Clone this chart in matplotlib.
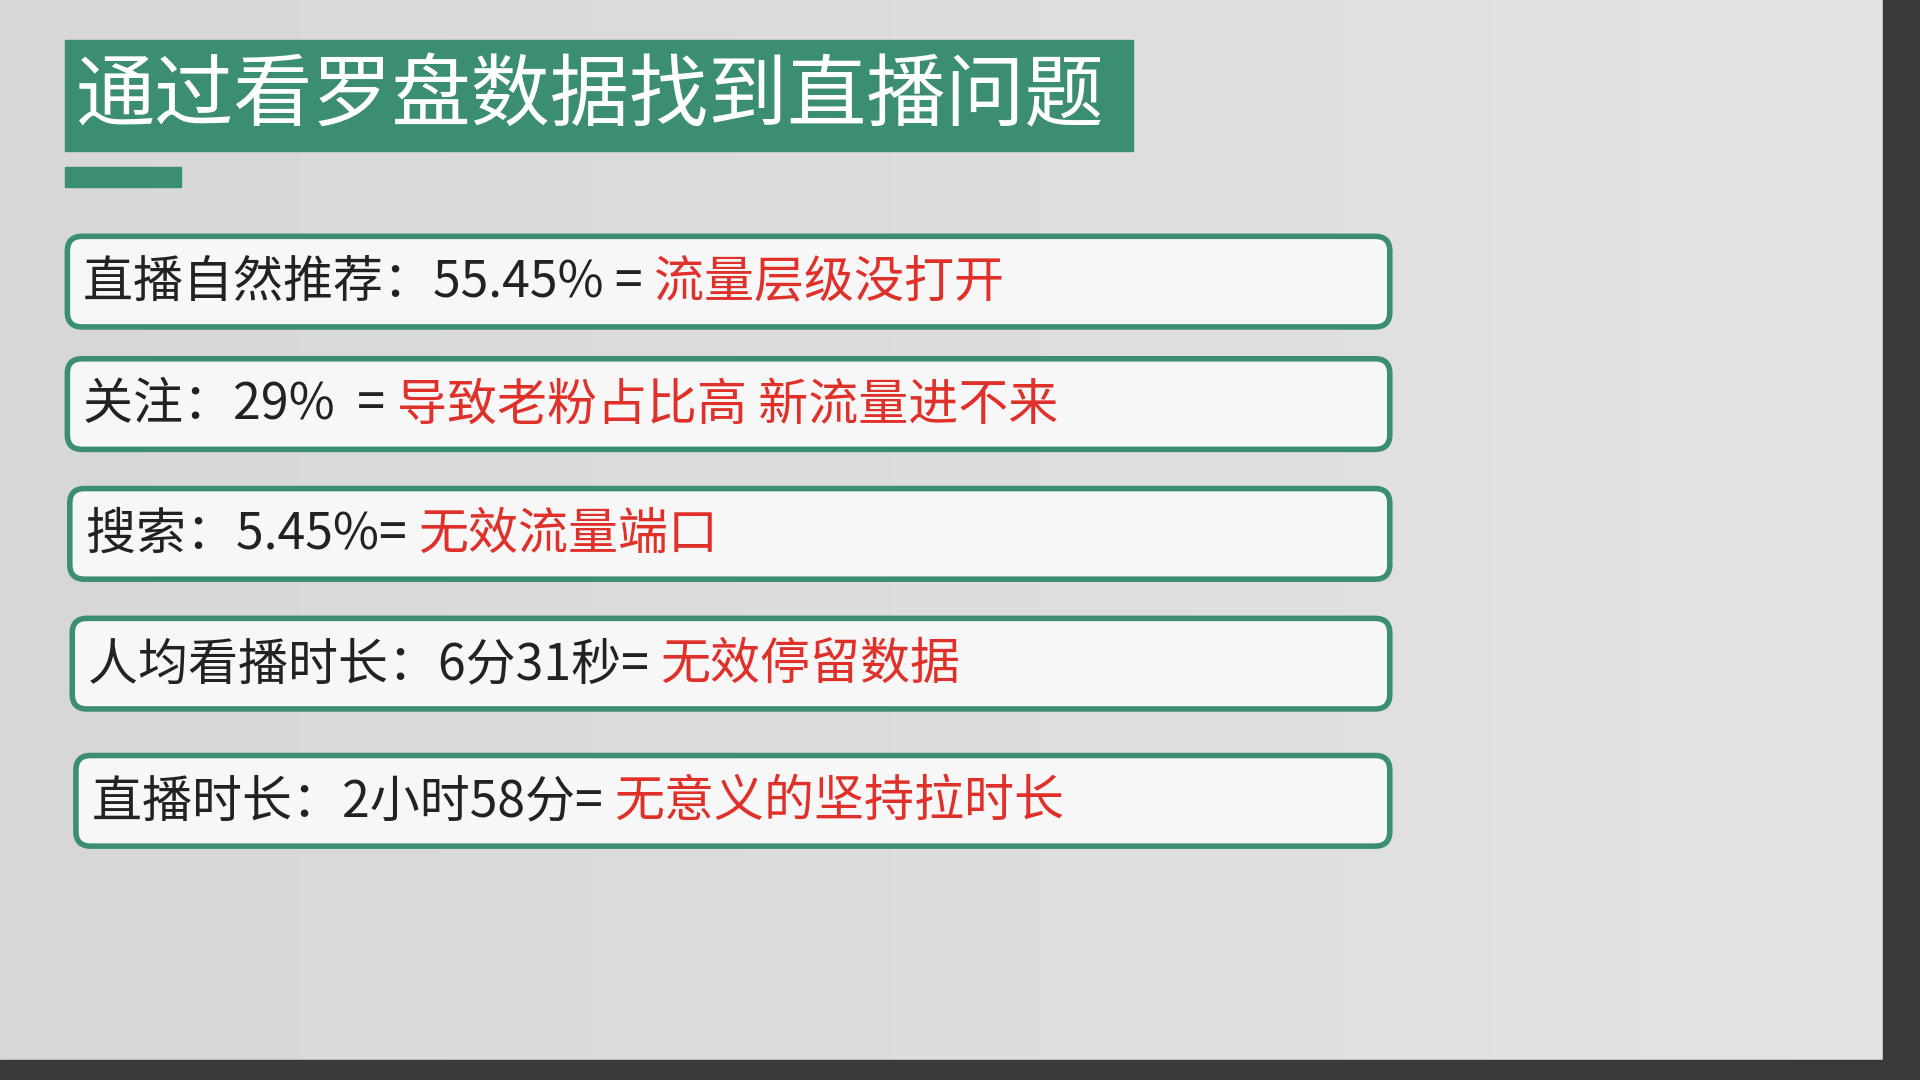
import matplotlib
matplotlib.use("Agg")
import matplotlib.pyplot as plt
from matplotlib.patches import FancyBboxPatch, Rectangle
import numpy as np

plt.rcParams['font.family'] = ['Noto Sans CJK SC', 'DejaVu Sans']

TITLE = "通过看罗盘数据找到直播问题"
metrics = ["直播自然推荐：55.45% = ", "关注：29%  = ", "搜索：5.45%= ", "人均看播时长：6分31秒= ", "直播时长：2小时58分= "]
conclusions = ["流量层级没打开", "导致老粉占比高 新流量进不来", "无效流量端口", "无效停留数据", "无意义的坚持拉时长"]

GREEN = "#3b8f70"
RED = "#e0302a"

W, H = 1568, 882
fig = plt.figure(figsize=(19.2, 10.8), dpi=100)
ax = fig.add_axes([0, 0, 1, 1])
ax.set_xlim(0, W)
ax.set_ylim(H, 0)
ax.axis("off")

# background: light grey with slight gradient, dark frame on the right/bottom
grad = np.linspace(0.84, 0.89, 256)[None, :] * np.ones((64, 1))
ax.imshow(grad, cmap="gray", vmin=0, vmax=1, extent=[0, W, H, 0], aspect="auto", zorder=0)
ax.add_patch(Rectangle((1538, 0), 30, H, color="#3a3a3a", zorder=1))
ax.add_patch(Rectangle((0, 866), W, 16, color="#3a3a3a", zorder=1))

# title block
ax.add_patch(Rectangle((53, 33), 872, 90, color=GREEN, zorder=2))
ax.text(62, 80, TITLE, color="white", fontsize=57, va="center", ha="left", zorder=3)
ax.add_patch(Rectangle((53, 136), 95, 17, color=GREEN, zorder=2))

tops = [193, 293, 399, 505, 617]
lefts = [55, 55, 57, 59, 62]
fig.canvas.draw()
renderer = fig.canvas.get_renderer()
for top, left, m, c in zip(tops, lefts, metrics, conclusions):
    ax.add_patch(FancyBboxPatch((left, top), 1135 - left, 74,
                                boxstyle="round,pad=0,rounding_size=12",
                                facecolor="#f7f7f7", edgecolor=GREEN, lw=4, zorder=2))
    t = ax.text(left + 13, top + 38, m, color="#222222", fontsize=36, va="center", ha="left", zorder=3)
    bb = t.get_window_extent(renderer).transformed(ax.transData.inverted())
    ax.text(bb.x1, top + 38, c, color=RED, fontsize=36, va="center", ha="left", zorder=3)

fig.savefig("out.png", dpi=100)
